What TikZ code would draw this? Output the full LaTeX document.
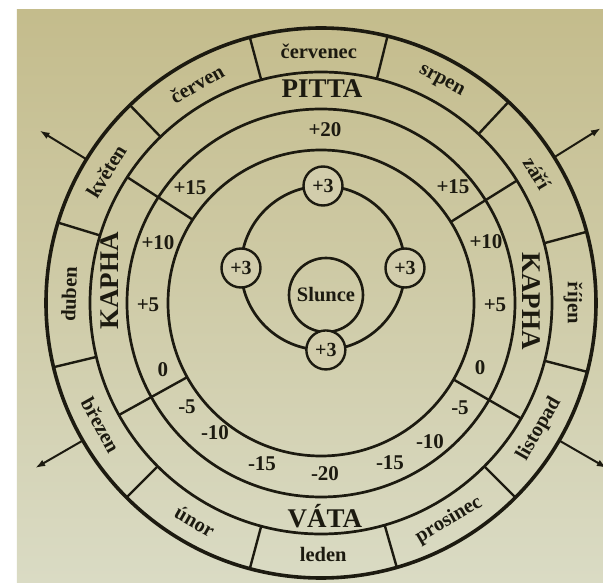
\documentclass[tikz,border=0pt]{standalone}
\usepackage{fontspec}
\setmainfont{Liberation Serif}
\usetikzlibrary{arrows.meta,calc}
\definecolor{bgtop}{RGB}{196,188,140}
\definecolor{bgbot}{RGB}{218,219,196}
\definecolor{bgmid}{RGB}{210,205,172}
\definecolor{ink}{RGB}{28,26,16}
\begin{document}
\begin{tikzpicture}[x=1pt,y=1pt,
  ring/.style={draw=ink,line width=2.7pt},
  outerring/.style={draw=ink,line width=3.6pt},
  divider/.style={draw=ink,line width=2.4pt},
  outarrow/.style={draw=ink,line width=2pt,-{Latex[length=10pt,width=7pt]}},
  month/.style={text=ink,font=\fontsize{20.5}{20.5}\selectfont\bfseries,inner sep=0pt},
  num/.style={text=ink,font=\fontsize{21}{21}\selectfont\bfseries,inner sep=0pt},
  dosha/.style={text=ink,font=\fontsize{27}{27}\selectfont\bfseries,inner sep=0pt},
  planet/.style={circle,draw=ink,line width=2.4pt,fill=bgmid,minimum size=39pt,inner sep=0pt,text=ink,font=\fontsize{20}{20}\selectfont\bfseries},
  sun/.style={circle,draw=ink,line width=2.6pt,minimum size=74pt,inner sep=0pt,text=ink,font=\fontsize{20.5}{20.5}\selectfont\bfseries}
]
\useasboundingbox (-321,-283) rectangle (282,303);
\fill[white] (-321,-283) rectangle (282,303);
\shade[top color=bgtop,bottom color=bgbot] (-304,-280) rectangle (282,293);

% rings
\path[outerring] (0,0) circle[radius=275];
\path[ring] (0,0) circle[radius=231];
\path[ring] (0,0) circle[radius=194];
\path[ring] (0,0) circle[radius=153];

% month dividers
\foreach \a in {15,47,76,105,134,163,193.5,225,255,286,315,345.5}
  \path[divider] (\a:231) -- (\a:275);
% dosha dividers
\foreach \a in {32,147,209,330}
  \path[divider] (\a:153) -- (\a:231);

% arrows
\foreach \a/\n in {32/a,148.5/b,210/c,330/d}{
  \coordinate (\n s) at (\a:275);
  \coordinate (\n e) at (\a:330);
  \draw[outarrow] (\n s) -- (\n e);
}

% months
\node[month,rotate=-90] (m10) at (0:252) {říjen};
\node[month,rotate=-59] (m9) at (31:252) {září};
\node[month,rotate=-28.5] (m8) at (61.5:252) {srpen};
\node[month] (m7) at (90.5:252) {červenec};
\node[month,rotate=29.5] (m6) at (119.5:252) {červen};
\node[month,rotate=58.5] (m5) at (148.5:252) {květen};
\node[month,rotate=88] (m4) at (178:252) {duben};
\node[month,rotate=-61] (m3) at (209:252) {březen};
\node[month,rotate=-30] (m2) at (240:252) {únor};
\node[month] (m1) at (270.5:252) {leden};
\node[month,rotate=30.5] (m12) at (300.5:252) {prosinec};
\node[month,rotate=60] (m11) at (330:252) {listopad};

% doshas
\node[dosha] (pitta) at (1,214) {PITTA};
\node[dosha] (vata) at (4,-213) {VÁTA};
\node[dosha,rotate=90] (kaphaL) at (-211,22) {KAPHA};
\node[dosha,rotate=-90] (kaphaR) at (210,2) {KAPHA};

% numbers
\node[num] (n20) at (4,173) {+20};
\node[num] (n15l) at (-131,115) {+15};
\node[num] (n15r) at (132,116) {+15};
\node[num] (n10l) at (-163,60) {+10};
\node[num] (n10r) at (165,61) {+10};
\node[num] (n5l) at (-173,-2) {+5};
\node[num] (n5r) at (174,-2) {+5};
\node[num] (n0l) at (-158,-67) {0};
\node[num] (n0r) at (159,-65) {0};
\node[num] (nm5l) at (-134,-104) {-5};
\node[num] (nm10l) at (-106,-130) {-10};
\node[num] (nm15l) at (-59,-161) {-15};
\node[num] (nm20) at (4,-171) {-20};
\node[num] (nm15r) at (69,-160) {-15};
\node[num] (nm10r) at (109,-139) {-10};
\node[num] (nm5r) at (139,-105) {-5};

% orbit and sun
\coordinate (oc) at (2,35);
\path[ring] (oc) circle[radius=82];
\node[sun] (slunce) at (5,8) {Slunce};
\node[planet] (p1) at ($(oc)+(90:82)$) {+3};
\node[planet] (p2) at ($(oc)+(180:82)$) {+3};
\node[planet] (p3) at ($(oc)+(0:82)$) {+3};
\node[planet] (p4) at ($(oc)+(272:82)$) {+3};
\end{tikzpicture}
\end{document}
